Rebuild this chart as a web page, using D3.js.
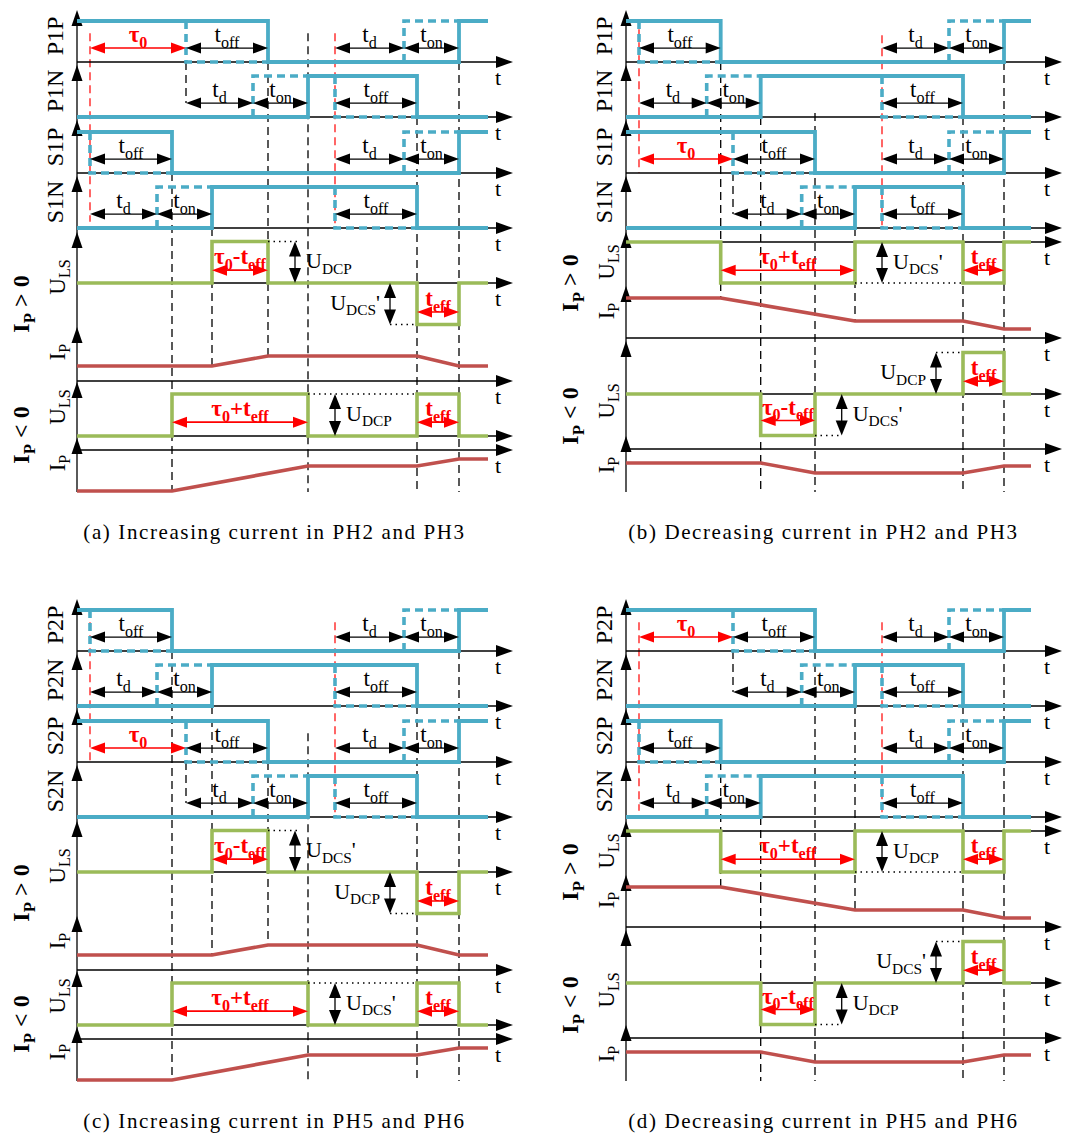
<!DOCTYPE html>
<html>
<head>
<meta charset="utf-8">
<script src="https://cdn.jsdelivr.net/npm/d3@7"></script>
<style>
  body { margin: 0; background: #fff; }
  svg { display: block; }
  text { font-family: "Liberation Serif", "Times New Roman", serif; fill: #000; }
</style>
</head>
<body>
<svg id="fig" width="1065" height="1135"></svg>
<script>
// ---------------------------------------------------------------------------
// Gate / voltage / current waveforms of the dead-time compensation sequence.
// Time is in ns from the start of the switching window; gate level 1 = on,
// U_LS level in multiples of the dead-time voltage step, I_P in A.
// ---------------------------------------------------------------------------

// ---- increasing-current sequence ----
const incPP    = [[0,1],[191,0],[382,1],[411,1]];
const incPPref = [[[109,1],[109,0],[191,0]], [[327,0],[327,1],[382,1]]];
const incPN    = [[0,0],[231,1],[340,0],[411,0]];
const incPNref = [[[176,0],[176,1],[231,1]], [[258,1],[258,0],[340,0]]];
const incSP    = [[0,1],[95,0],[382,1],[411,1]];
const incSPref = [[[13,1],[13,0],[95,0]], [[327,0],[327,1],[382,1]]];
const incSN    = [[0,0],[135,1],[340,0],[411,0]];
const incSNref = [[[80,0],[80,1],[135,1]], [[258,1],[258,0],[340,0]]];
const incUpos  = [[0,0],[135,1],[191,0],[340,-1],[382,0],[411,0]];
const incIpos  = [[0,1.5],[135,1.5],[191,2.5],[340,2.5],[382,1.5],[411,1.5]];
const incUneg  = [[0,0],[95,1],[231,0],[340,1],[382,0],[411,0]];
const incIneg  = [[0,-4.1],[95,-4.1],[231,-1.6],[340,-1.6],[382,-0.9],[411,-0.9]];

// ---- decreasing-current sequence ----
const decPP    = [[0,1],[94.7,0],[378,1],[405,1]];
const decPPref = [[[13,1],[13,0],[94.7,0]], [[323,0],[323,1],[378,1]]];
const decPN    = [[0,0],[134.7,1],[337,0],[405,0]];
const decPNref = [[[80.7,0],[80.7,1],[134.7,1]], [[256,1],[256,0],[337,0]]];
const decSP    = [[0,1],[189,0],[378,1],[405,1]];
const decSPref = [[[107,1],[107,0],[189,0]], [[323,0],[323,1],[378,1]]];
const decSN    = [[0,0],[229,1],[337,0],[405,0]];
const decSNref = [[[175.7,0],[175.7,1],[229,1]], [[256,1],[256,0],[337,0]]];
const decUpos  = [[0,0],[94.7,-1],[229,0],[337,-1],[378,0],[405,0]];
const decIpos  = [[0,4.0],[94.7,4.0],[229,1.7],[337,1.7],[378,0.9],[405,0.9]];
const decUneg  = [[0,0],[134.7,-1],[189,0],[337,1],[378,0],[405,0]];
const decIneg  = [[0,-1.4],[134.7,-1.4],[189,-2.4],[337,-2.4],[378,-1.7],[405,-1.7]];

// ---- interval annotations: [from, to, label, highlighted, level] ----
const incSpans = {
  PP:   [[13,109,'τ_{0}',1],[109,191,'t_{off}'],[258,327,'t_{d}'],[327,382,'t_{on}']],
  PN:   [[109,176,'t_{d}'],[176,231,'t_{on}'],[258,340,'t_{off}']],
  SP:   [[13,95,'t_{off}'],[258,327,'t_{d}'],[327,382,'t_{on}']],
  SN:   [[13,80,'t_{d}'],[80,135,'t_{on}'],[258,340,'t_{off}']],
  Upos: [[135,191,'τ_{0}-t_{eff}',1,0.31],[340,382,'t_{eff}',1,-0.70]],
  Uneg: [[95,231,'τ_{0}+t_{eff}',1,0.33],[340,382,'t_{eff}',1,0.33]]
};
const decSpans = {
  PP:   [[13,94.7,'t_{off}'],[256,323,'t_{d}'],[323,378,'t_{on}']],
  PN:   [[13,80.7,'t_{d}'],[80.7,134.7,'t_{on}'],[256,337,'t_{off}']],
  SP:   [[13,107,'τ_{0}',1],[107,189,'t_{off}'],[256,323,'t_{d}'],[323,378,'t_{on}']],
  SN:   [[107,175.7,'t_{d}'],[175.7,229,'t_{on}'],[256,337,'t_{off}']],
  Upos: [[94.7,229,'τ_{0}+t_{eff}',1,-0.69],[337,378,'t_{eff}',1,-0.69]],
  Uneg: [[134.7,189,'τ_{0}-t_{eff}',1,-0.64],[337,378,'t_{eff}',1,0.31]]
};

// ---- voltage steps: [time, level, dotted from, dotted to, bus ('P'/'S'), label side] ----
const incSteps = {
  Upos: [[218,1,191,220,'P','right'],[313,-1,313,340,'S','left']],
  Uneg: [[258,1,231,340,'P','right']]
};
const decSteps = {
  Upos: [[256,-1,229,337,'S','right']],
  Uneg: [[215.7,-1,189,215.7,'S','right'],[310,1,310,337,'P','left']]
};

// ---- vertical time markers: [time, fromRow, fromLevel, toRow|'end', toLevel] ----
const guidesA = [[95,2,0,'end'],[109,0,0,1,0.34],[135,3,0,5,1.5],[191,0,0,5,2.5],[231,0,0.7,'end'],[340,1,0,'end'],[382,0,0,'end']];
const redA    = [[13,0,0.7,3,0.15],[258,0,0.7,3,0]];
const guidesB = [[94.7,0,0,5,4.0],[107,2,0,3,0.34],[134.7,1,0,'end'],[189,1,0.1,'end'],[229,3,0,5,1.7],[337,1,0,'end'],[378,0,0,'end']];
const redB    = [[13,0,0.8,2,0],[256,0,0.65,3,0]];
const guidesC = [[95,0,0,'end'],[109,2,0,3,0.34],[135,1,0,5,1.5],[191,2,0,5,2.5],[231,2,0.7,'end'],[340,1,0,'end'],[382,0,0,'end']];
const redC    = [[13,0,0.7,2,0],[258,0,0.7,3,0]];
const guidesD = [[107,0,0,1,0.34],[94.7,2,0,5,4.0],[134.7,3,0,'end'],[189,0,0,'end'],[229,1,0,5,1.7],[337,1,0,'end'],[378,0,0,'end']];
const redD    = [[13,0,0.7,3,0.15],[256,0,0.7,3,0]];

// ---- switch names and captions ----
const namesPH23 = ['P1P','P1N','S1P','S1N'];
const namesPH56 = ['P2P','P2N','S2P','S2N'];
const captions = [
  '(a) Increasing current in PH2 and PH3',
  '(b) Decreasing current in PH2 and PH3',
  '(c) Increasing current in PH5 and PH6',
  '(d) Decreasing current in PH5 and PH6'
];

// assembled sequence tables
const SEQ = {
  inc: {wave:{PP:incPP,PN:incPN,SP:incSP,SN:incSN,Upos:incUpos,Ipos:incIpos,Uneg:incUneg,Ineg:incIneg},
        ref:{PP:incPPref,PN:incPNref,SP:incSPref,SN:incSNref}, spans:incSpans, steps:incSteps},
  dec: {wave:{PP:decPP,PN:decPN,SP:decSP,SN:decSN,Upos:decUpos,Ipos:decIpos,Uneg:decUneg,Ineg:decIneg},
        ref:{PP:decPPref,PN:decPNref,SP:decSPref,SN:decSNref}, spans:decSpans, steps:decSteps}
};

// ---------------------------------------------------------------------------
// Layout
// ---------------------------------------------------------------------------
const BLUE = '#4bacc6', GREEN = '#9bbb59', BROWN = '#c0504d', RED = '#ff0000';
const AX = 77;          // vertical axis inside a panel
const T_TIP = 436;      // time-axis arrow tip (ns)

const layoutInc = {
  base: [62,117,173,228,283,381,436,450],
  unit: [41,41,41,41,41.5,10,42,10],
  tip:  [10,65,120,176,232,327,382,438],
  tLab: [1,1,1,1,1,1,0,1],
  labY: [36,91,147,202,277,352,407,463],
  bigY: [304,435],
  bottom: 492
};
const layoutDec = {
  base: [62,117,173,228,242,338,394,449],
  unit: [41,41,41,41,41,10,41.5,10],
  tip:  [10,65,120,176,232,286,341,436],
  tLab: [1,1,1,0,1,1,1,1],
  labY: [36,91,147,202,262,311,401,465],
  bigY: [283,416],
  bottom: 492
};

const panels = [
  {ox:0,   oy:0,   seq:'inc', layout:layoutInc, gates:['PP','PN','SP','SN'], names:namesPH23, swap:false, guides:guidesA, red:redA, caption:captions[0]},
  {ox:549, oy:0,   seq:'dec', layout:layoutDec, gates:['PP','PN','SP','SN'], names:namesPH23, swap:false, guides:guidesB, red:redB, caption:captions[1]},
  {ox:0,   oy:589, seq:'inc', layout:layoutInc, gates:['SP','SN','PP','PN'], names:namesPH56, swap:true,  guides:guidesC, red:redC, caption:captions[2]},
  {ox:549, oy:589, seq:'dec', layout:layoutDec, gates:['SP','SN','PP','PN'], names:namesPH56, swap:true,  guides:guidesD, red:redD, caption:captions[3]}
];

const svg = d3.select('#fig');

// ---------------------------------------------------------------------------
// helpers
// ---------------------------------------------------------------------------
function parts(str) {
  const out = []; const re = /_\{([^}]*)\}/g; let last = 0, m;
  while ((m = re.exec(str))) {
    if (m.index > last) out.push({s: str.slice(last, m.index)});
    out.push({s: m[1], sub: true});
    last = re.lastIndex;
  }
  if (last < str.length) out.push({s: str.slice(last)});
  return out;
}

function rich(g, str, size, opt = {}) {
  const t = g.append('text').attr('font-size', size);
  if (opt.bold) t.attr('font-weight', 'bold');
  if (opt.fill) t.style('fill', opt.fill);
  t.attr('text-anchor', opt.anchor || 'middle');
  let shift = 0;
  for (const p of parts(str)) {
    const want = p.sub ? size * 0.24 : 0;
    const ts = t.append('tspan').text(p.s).attr('font-size', p.sub ? size * 0.7 : size);
    if (want !== shift) { ts.attr('dy', want - shift); shift = want; }
  }
  return t;
}

function head(g, x, y, dir, color, len = 15, hw = 5.5) {
  let pts;
  if (dir === 'r') pts = [[x, y], [x - len, y - hw], [x - len, y + hw]];
  if (dir === 'l') pts = [[x, y], [x + len, y - hw], [x + len, y + hw]];
  if (dir === 'u') pts = [[x, y], [x - hw, y + len], [x + hw, y + len]];
  if (dir === 'd') pts = [[x, y], [x - hw, y - len], [x + hw, y - len]];
  g.append('path').attr('d', 'M' + pts.join('L') + 'Z').attr('fill', color);
}

// ---------------------------------------------------------------------------
// one panel
// ---------------------------------------------------------------------------
function drawPanel(P) {
  const g = svg.append('g').attr('transform', `translate(${P.ox},${P.oy})`);
  const L = P.layout, S = SEQ[P.seq];
  const keys = [...P.gates, 'Upos', 'Ipos', 'Uneg', 'Ineg'];
  const x = d3.scaleLinear().domain([0, T_TIP]).range([AX, AX + T_TIP]);
  const ys = L.base.map((b, i) => d3.scaleLinear().domain([0, 1]).range([b, b - L.unit[i]]));
  const yAt = (r, lv) => r === 'end' ? L.bottom : ys[r](lv);

  // vertical time markers
  const gl = g.append('g');
  P.guides.forEach(([t, r0, l0, r1, l1]) => {
    gl.append('line').attr('x1', x(t)).attr('x2', x(t))
      .attr('y1', yAt(r0, l0)).attr('y2', yAt(r1, l1))
      .attr('stroke', '#000').attr('stroke-width', 1.3).attr('stroke-dasharray', '8,5');
  });
  P.red.forEach(([t, r0, l0, r1, l1]) => {
    gl.append('line').attr('x1', x(t)).attr('x2', x(t))
      .attr('y1', yAt(r0, l0)).attr('y2', yAt(r1, l1))
      .attr('stroke', RED).attr('stroke-width', 1.2).attr('stroke-dasharray', '8,5');
  });

  // axes
  const ga = g.append('g');
  ga.append('line').attr('x1', AX).attr('x2', AX).attr('y1', L.tip[0] + 4).attr('y2', L.bottom)
    .attr('stroke', '#000').attr('stroke-width', 1.3);
  L.base.forEach((b, i) => {
    ga.append('line').attr('x1', AX).attr('x2', x(T_TIP) - 6).attr('y1', b).attr('y2', b)
      .attr('stroke', '#000').attr('stroke-width', 1.3);
    head(ga, x(T_TIP), b, 'r', '#000', 17, 6);
    head(ga, AX, L.tip[i], 'u', '#000', 16, 5.5);
    if (L.tLab[i]) ga.append('text').attr('x', x(T_TIP) - 15).attr('y', b + 23)
      .attr('font-size', 22).attr('text-anchor', 'middle').text('t');
  });

  // waveforms
  const step = (ys_) => d3.line().x(d => x(d[0])).y(d => ys_(d[1])).curve(d3.curveStepAfter);
  const lin  = (ys_) => d3.line().x(d => x(d[0])).y(d => ys_(d[1]));
  const gw = g.append('g').attr('fill', 'none').attr('stroke-linejoin', 'miter');
  keys.forEach((k, i) => {
    if (i < 4) {
      S.ref[k].forEach(seg => gw.append('path').attr('d', lin(ys[i])(seg))
        .attr('stroke', BLUE).attr('stroke-width', 3.6).attr('stroke-dasharray', '8,5'));
      gw.append('path').attr('d', step(ys[i])(S.wave[k])).attr('stroke', BLUE).attr('stroke-width', 3.8);
    } else if (k[0] === 'U') {
      gw.append('path').attr('d', step(ys[i])(S.wave[k])).attr('stroke', GREEN).attr('stroke-width', 3.6);
    } else {
      gw.append('path').attr('d', lin(ys[i])(S.wave[k])).attr('stroke', BROWN).attr('stroke-width', 3.6);
    }
  });

  // interval annotations
  const gn = g.append('g');
  keys.forEach((k, i) => {
    (S.spans[k] || []).forEach(([t0, t1, lab, hi, lv]) => {
      const col = hi ? RED : '#000';
      const yy = ys[i](lv === undefined ? 0.34 : lv);
      gn.append('line').attr('x1', x(t0) + 4).attr('x2', x(t1) - 4).attr('y1', yy).attr('y2', yy)
        .attr('stroke', col).attr('stroke-width', hi ? 1.6 : 1.3);
      head(gn, x(t0), yy, 'l', col);
      head(gn, x(t1), yy, 'r', col);
      rich(gn, lab, hi ? 23 : 23, {bold: !!hi, fill: col})
        .attr('x', (x(t0) + x(t1)) / 2).attr('y', yy - 6);
    });
  });

  // voltage steps
  ['Upos', 'Uneg'].forEach(k => {
    const i = keys.indexOf(k);
    (S.steps[k] || []).forEach(([t, lv, d0, d1, bus, side]) => {
      const b = P.swap ? (bus === 'P' ? 'S' : 'P') : bus;
      const y0 = ys[i](0), y1 = ys[i](lv);
      gn.append('line').attr('x1', x(d0)).attr('x2', x(d1)).attr('y1', y1).attr('y2', y1)
        .attr('stroke', '#000').attr('stroke-width', 1.5).attr('stroke-dasharray', '1.5,4');
      const top = Math.min(y0, y1), bot = Math.max(y0, y1);
      gn.append('line').attr('x1', x(t)).attr('x2', x(t)).attr('y1', top + 4).attr('y2', bot - 4)
        .attr('stroke', '#000').attr('stroke-width', 1.3);
      head(gn, x(t), top, 'u', '#000', 15, 6);
      head(gn, x(t), bot, 'd', '#000', 15, 6);
      const lab = b === 'P' ? 'U_{DCP}' : "U_{DCS}'";
      rich(gn, lab, 22, {anchor: side === 'right' ? 'start' : 'end'})
        .attr('x', side === 'right' ? x(t) + 11 : x(t) - 10)
        .attr('y', (top + bot) / 2 + 6);
    });
  });

  // row labels
  const gt = g.append('g');
  const vlabel = (str, cx, cy, size, opt) => {
    const t = rich(gt, str, size, opt);
    t.attr('transform', `translate(${cx + size * 0.33},${cy}) rotate(-90)`);
  };
  P.names.forEach((n, i) => vlabel(n, AX - 22, L.labY[i], 24));
  vlabel('U_{LS}', AX - 20, L.labY[4], 23);
  vlabel('I_{P}', AX - 20, L.labY[5], 23);
  vlabel('U_{LS}', AX - 20, L.labY[6], 23);
  vlabel('I_{P}', AX - 20, L.labY[7], 23);
  vlabel('I_{P} > 0', AX - 56, L.bigY[0], 24, {bold: true});
  vlabel('I_{P} < 0', AX - 56, L.bigY[1], 24, {bold: true});

  // caption
  g.append('text').attr('x', AX + 197.5).attr('y', 539).attr('text-anchor', 'middle')
    .attr('font-size', 21).attr('letter-spacing', 1.6).text(P.caption);
}

panels.forEach(drawPanel);
</script>
</body>
</html>
